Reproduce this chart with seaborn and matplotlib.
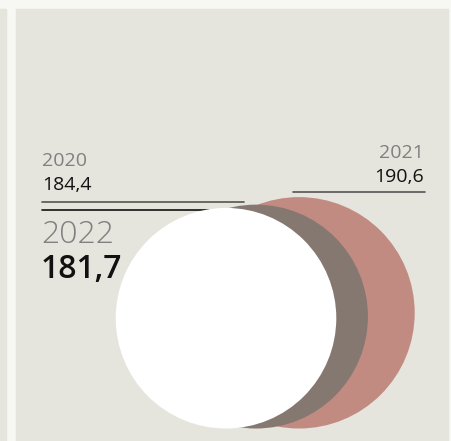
import matplotlib
matplotlib.use("Agg")
import matplotlib.pyplot as plt
from matplotlib.patches import Circle, Rectangle
import seaborn as sns
import pandas as pd

years = ["2021", "2020", "2022"]
values = [190.6, 184.4, 181.7]
labels = ["190,6", "184,4", "181,7"]
colors = ["#c18b82", "#857870", "#ffffff"]

df = pd.DataFrame({"year": years, "value": values, "label": labels, "color": colors})

sns.set_theme(style="white")
plt.rcParams["font.family"] = ["Open Sans", "DejaVu Sans"]

W, H = 452, 441
fig = plt.figure(figsize=(W / 100, H / 100), dpi=100, facecolor="#f7f7f3")
ax = fig.add_axes([0, 0, 1, 1])
ax.set_xlim(0, W)
ax.set_ylim(H, 0)
ax.axis("off")
ax.set_facecolor("#f7f7f3")

# panels
ax.add_patch(Rectangle((16, 9), 432, 440, color="#e5e4dd", zorder=0))
ax.add_patch(Rectangle((-5, 9), 11, 440, color="#e5e4dd", zorder=0))

# circles, bottom-aligned, radius proportional to value
k = 0.607
bottom = 428.5
cx = {"2021": 299, "2020": 256, "2022": 226}
for i, row in df.iterrows():
    r = k * row["value"]
    ax.add_patch(Circle((cx[row["year"]], bottom - r), r, color=row["color"], zorder=2 + i, lw=0))

# leader lines
ax.plot([42, 244], [202, 202], color="#555555", lw=1.2, zorder=1)
ax.plot([42, 234], [210, 210], color="#111111", lw=1.2, zorder=1)
ax.plot([293, 425], [192, 192], color="#555555", lw=1.2, zorder=1)

# texts
ax.text(42, 166, "2020", fontsize=14, color="#808080", ha="left", va="baseline")
ax.text(42, 190, "184,4", fontsize=14, color="#111111", ha="left", va="baseline")
ax.text(424, 158, "2021", fontsize=14, color="#808080", ha="right", va="baseline")
ax.text(424, 182, "190,6", fontsize=14, color="#111111", ha="right", va="baseline")
ax.text(41, 243, "2022", fontsize=23, color="#808080", ha="left", va="baseline", fontweight="light")
ax.text(41, 278, "181,7", fontsize=23, color="#111111", ha="left", va="baseline", fontweight="semibold")

fig.savefig("out.png", dpi=100, facecolor=fig.get_facecolor())
